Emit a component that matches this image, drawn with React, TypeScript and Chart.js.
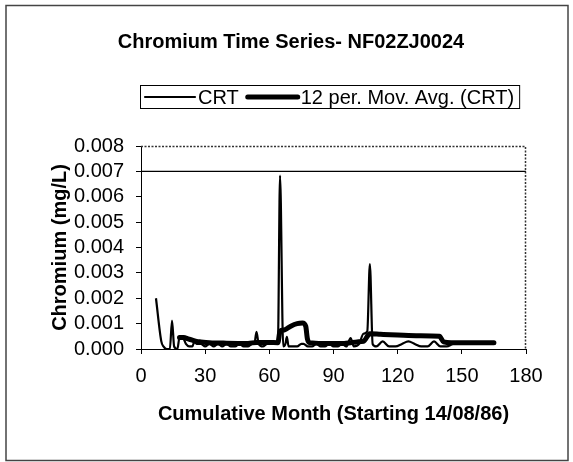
import React, { useEffect, useRef } from "react";
import { Chart, registerables } from "chart.js";

Chart.register(...registerables);

const FONT = "'Liberation Sans', Arial, Helvetica, sans-serif";

const chartTitle = "Chromium Time Series- NF02ZJ0024";
const xAxisTitle = "Cumulative Month (Starting 14/08/86)";
const yAxisTitle = "Chromium (mg/L)";
const seriesLabels = ["CRT", "12 per. Mov. Avg. (CRT)"];

const xMin = 0;
const xMax = 180;
const xStep = 30;
const yMin = 0;
const yMax = 0.008;
const yStep = 0.001;

const crtMonths = [
  7, 9.5, 10.5, 12, 13.5, 14.5, 15.5, 17, 18, 19.5, 21, 22.5, 24, 25, 26, 28, 30, 32, 34, 36, 38, 40,
  42, 44, 46, 48, 50, 52, 53, 54, 55, 57, 59, 61, 63, 64, 65, 66.5, 67.5, 68.2, 69, 71, 73, 75, 76,
  78, 80, 82, 84, 86, 88, 90, 92, 94, 96, 98, 99.5, 102, 104, 105.8, 107, 108.3, 110, 113, 116, 119,
  122, 125, 128, 131, 134, 137, 140, 143, 146, 149, 152, 155, 158, 161, 164,
];
const crtValues = [
  0.002, 0.0003, 0.0001, 0.0, 0.0, 0.00112, 0.0001, 0.0, 0.00045, 0.00045, 0.0002, 0.0001, 0.0001,
  0.0003, 0.0002, 0.0002, 0.0001, 0.0002, 0.0001, 0.0002, 0.0001, 0.0002, 0.0001, 0.0001, 0.0002,
  0.0001, 0.0001, 0.0002, 0.0002, 0.00068, 0.0002, 0.0001, 0.0002, 0.0002, 0.0002, 0.0002, 0.00683,
  0.0001, 0.0002, 0.00048, 0.0001, 0.0001, 0.0001, 0.0002, 0.0002, 0.0001, 0.0001, 0.0002, 0.0001,
  0.0001, 0.0002, 0.0001, 0.0001, 0.0002, 0.0001, 0.00043, 0.0001, 0.0002, 0.0006, 0.0007, 0.00335,
  0.0002, 0.0001, 0.0003, 0.0001, 0.0001, 0.0002, 0.0003, 0.0002, 0.0001, 0.0001, 0.0003, 0.0001,
  0.0001, 0.0002, 0.0002, 0.0002, 0.0002, 0.0002, 0.0002, 0.0002,
];

const maMonths = [
  18, 20, 22, 24, 26, 28, 32, 40, 50, 54, 60, 64, 65, 67, 70, 73, 75.5, 77, 77.8, 79, 85, 90, 95, 98,
  101, 104, 107, 112, 120, 130, 139.5, 141.5, 145, 155, 165,
];
const maValues = [
  0.00045, 0.00045, 0.0004, 0.00035, 0.0003, 0.00028, 0.00025, 0.00023, 0.00022, 0.00026, 0.00026,
  0.00025, 0.0007, 0.00075, 0.0009, 0.001, 0.00102, 0.0009, 0.0004, 0.00025, 0.00022, 0.00022,
  0.00022, 0.00025, 0.00028, 0.0003, 0.0006, 0.00058, 0.00055, 0.00052, 0.0005, 0.00028, 0.00025,
  0.00025, 0.00025,
];

const limitMonths = [0, 180];
const limitValues = [0.007, 0.007];

const toPoints = (xs: number[], ys: number[]) => xs.map((x, i) => ({ x, y: ys[i] }));

const decorPlugin = {
  id: "decor",
  beforeDraw(chart: any) {
    const { ctx, width, height } = chart;
    ctx.save();
    ctx.fillStyle = "#ffffff";
    ctx.fillRect(0, 0, width, height);
    ctx.strokeStyle = "#444";
    ctx.lineWidth = 1.5;
    ctx.strokeRect(6, 5.5, 562, 455);
    ctx.restore();
  },
  afterDraw(chart: any) {
    const { ctx, chartArea: ca } = chart;
    ctx.save();
    // dotted plot-area border (top and right)
    ctx.strokeStyle = "#333";
    ctx.lineWidth = 1.5;
    ctx.setLineDash([2, 1.5]);
    ctx.beginPath();
    ctx.moveTo(ca.left, ca.top + 0.5);
    ctx.lineTo(ca.right - 0.5, ca.top + 0.5);
    ctx.lineTo(ca.right - 0.5, ca.bottom);
    ctx.stroke();
    ctx.setLineDash([]);

    // title
    ctx.fillStyle = "#000";
    ctx.font = `bold 20px ${FONT}`;
    ctx.textAlign = "center";
    ctx.textBaseline = "middle";
    ctx.fillText(chartTitle, 291, 42);

    // legend
    ctx.font = `20px ${FONT}`;
    ctx.textAlign = "left";
    const boxLeft = 140;
    const boxTop = 85;
    const boxH = 23;
    const cy = boxTop + boxH / 2 + 0.5;
    let x = boxLeft + 5;
    const datasets = chart.data.datasets.slice(0, 2);
    datasets.forEach((ds: any, i: number) => {
      ctx.strokeStyle = "#000";
      ctx.lineWidth = ds.borderWidth;
      ctx.lineCap = "round";
      ctx.beginPath();
      ctx.moveTo(x, cy);
      ctx.lineTo(x + 50, cy);
      ctx.stroke();
      x += 53;
      ctx.fillText(ds.label, x, cy + 1);
      x += ctx.measureText(ds.label).width;
      if (i < datasets.length - 1) x += 9;
    });
    x += 5;
    ctx.lineWidth = 1;
    ctx.strokeStyle = "#000";
    ctx.strokeRect(boxLeft + 0.5, boxTop + 0.5, x - boxLeft, boxH);
    ctx.restore();
  },
};

export default function App() {
  const ref = useRef<HTMLCanvasElement | null>(null);

  useEffect(() => {
    if (!ref.current) return;
    const chart = new Chart(ref.current, {
      type: "line",
      data: {
        datasets: [
          {
            label: seriesLabels[0],
            data: toPoints(crtMonths, crtValues),
            borderColor: "#000",
            borderWidth: 2.2,
            pointRadius: 0,
            cubicInterpolationMode: "monotone",
            fill: false,
          },
          {
            label: seriesLabels[1],
            data: toPoints(maMonths, maValues),
            borderColor: "#000",
            borderWidth: 5,
            pointRadius: 0,
            cubicInterpolationMode: "monotone",
            borderJoinStyle: "round",
            borderCapStyle: "round",
            fill: false,
          },
          {
            label: "limit",
            data: toPoints(limitMonths, limitValues),
            borderColor: "#000",
            borderWidth: 1.2,
            pointRadius: 0,
            fill: false,
          },
        ],
      },
      options: {
        responsive: false,
        animation: false,
        events: [],
        layout: { padding: { left: 0, right: 47, top: 146, bottom: 0 } },
        plugins: {
          legend: { display: false },
          title: { display: false },
          tooltip: { enabled: false },
        },
        scales: {
          x: {
            type: "linear",
            min: xMin,
            max: xMax,
            afterFit: (s: any) => {
              s.height = 113;
            },
            ticks: {
              stepSize: xStep,
              autoSkip: false,
              maxRotation: 0,
              color: "#000",
              padding: 10,
              font: { family: FONT, size: 20 },
              callback: (v: any) => String(v),
            },
            grid: { drawOnChartArea: false, drawTicks: true, tickLength: 5, color: "#000" },
            border: { display: true, color: "#000", width: 1 },
            title: {
              display: true,
              text: xAxisTitle,
              color: "#000",
              font: { family: FONT, size: 20, weight: "bold" },
              padding: { top: 0, bottom: 36 },
            },
          },
          y: {
            type: "linear",
            min: yMin,
            max: yMax,
            afterFit: (s: any) => {
              s.width = 141;
            },
            ticks: {
              stepSize: yStep,
              autoSkip: false,
              color: "#000",
              padding: 12,
              font: { family: FONT, size: 20 },
              callback: (v: any) => Number(v).toFixed(3),
            },
            grid: { drawOnChartArea: false, drawTicks: true, tickLength: 5, color: "#000" },
            border: { display: true, color: "#000", width: 1 },
            title: {
              display: true,
              text: yAxisTitle,
              color: "#000",
              font: { family: FONT, size: 20, weight: "bold" },
              padding: { top: 48, bottom: 0 },
            },
          },
        },
      },
      plugins: [decorPlugin],
    });
    return () => chart.destroy();
  }, []);

  return (
    <div style={{ position: "fixed", left: 0, top: 0, width: 573, height: 462, background: "#fff" }}>
      <canvas ref={ref} width={573} height={462} style={{ display: "block" }} />
    </div>
  );
}
